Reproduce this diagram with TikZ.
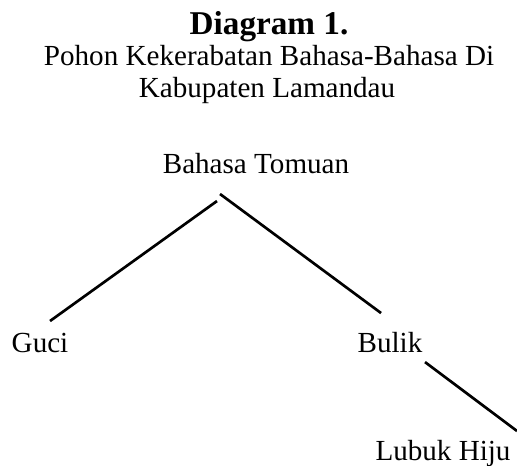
\documentclass[tikz,border=0pt]{standalone}
\usepackage{fontspec}
\setmainfont{Liberation Serif}
\usetikzlibrary{calc}

\tikzset{
    word/.style={anchor=base, inner sep=0pt, font=\fontsize{12}{14}\selectfont},
    branch/.style={line width=1.1pt}
}

\begin{document}
\begin{tikzpicture}
    \useasboundingbox (0,0) rectangle (7.491,6.738);

    \node[word, font=\fontsize{13.7}{16}\selectfont\bfseries] (title) at (3.898, 6.231){Diagram 1.};
    \node[word] (subA) at (3.898, 5.782){Pohon Kekerabatan Bahasa-Bahasa Di};
    \node[word] (subB) at (3.869, 5.332){Kabupaten Lamandau};

    \node[word] (tomuan) at (3.709, 4.231){Bahasa Tomuan};
    \node[word] (guci) at (0.580, 1.637){Guci};
    \node[word] (bulik) at (5.651, 1.637){Bulik};
    \node[word] (hiju) at (6.419, 0.072){Lubuk Hiju};

    \draw[branch] ($(tomuan.base)+(-0.565,-0.406)$) -- ($(guci.base)+(0.145,0.450)$);
    \draw[branch] ($(tomuan.base)+(-0.521,-0.304)$) -- ($(bulik.base)+(-0.130,0.565)$);
    \draw[branch] ($(bulik.base)+(0.507,-0.145)$) -- ($(hiju.base)+(1.072,0.421)$);
  \end{tikzpicture}
\end{document}
